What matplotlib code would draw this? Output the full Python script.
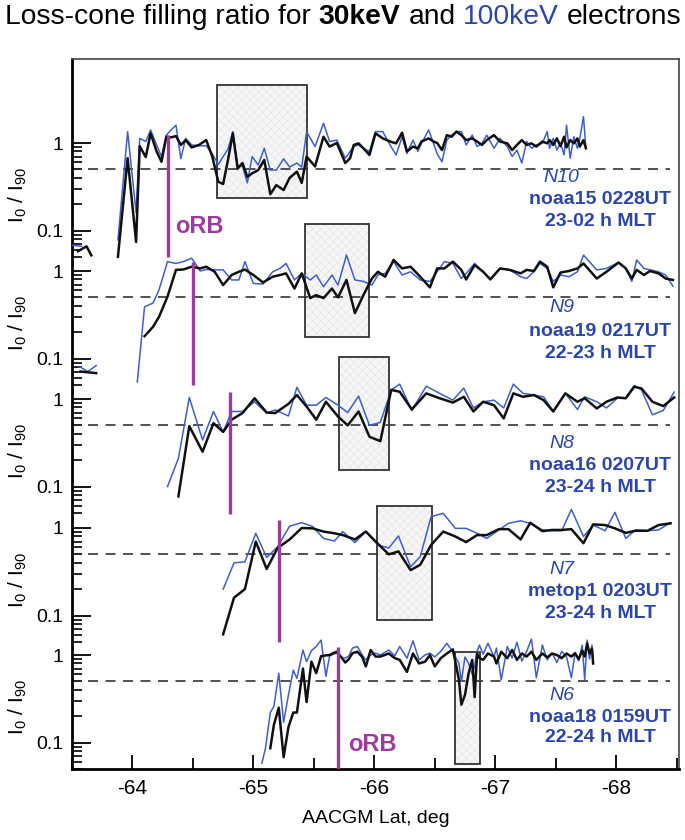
import numpy as np
import matplotlib
matplotlib.use("Agg")
import matplotlib.pyplot as plt
from matplotlib import ticker, transforms
from matplotlib.patches import Rectangle

plt.rcParams['font.family'] = ['Liberation Sans', 'DejaVu Sans']
plt.rcParams['mathtext.fontset'] = 'custom'
plt.rcParams['mathtext.rm'] = 'Liberation Sans'
plt.rcParams['axes.unicode_minus'] = False
plt.rcParams['hatch.linewidth'] = 0.3

nan = np.nan

# ---- N10  noaa15 ----
lat_n10 = [-63.88, -63.96, -64.03, -64.06, -64.11, -64.15, -64.20, -64.24, -64.28, -64.32,
           -64.36, -64.40, -64.44, -64.49, -64.55, -64.61, -64.66, -64.71, -64.75, -64.79,
           -64.83, -64.87, -64.91, -64.95, -64.99, -65.04, -65.09, -65.14, -65.19, -65.25,
           -65.30, -65.36, -65.40, -65.44, -65.51, -65.58, -65.63, -65.69, -65.76, -65.80,
           -65.83, -65.87, -65.91, -65.96, -66.01,
           -66.07, -66.13, -66.18, -66.23, -66.27, -66.32, -66.36, -66.39, -66.45, -66.49,
           -66.52, -66.56, -66.60, -66.64, -66.68, -66.72, -66.76, -66.81, -66.85, -66.89,
           -66.93, -66.99, -67.04, -67.10, -67.14, -67.18, -67.22, -67.26, -67.30, -67.34,
           -67.39, -67.43, -67.45, -67.48, -67.51, -67.54, -67.57, -67.59, -67.62, -67.65,
           -67.68, -67.70, -67.73, -67.75]
kev30_n10 = [0.05, 0.67, 0.074, 0.92, 0.69, 1.29, 0.80, 0.61, 1.18, 1.16,
             1.20, 0.95, 1.08, 0.89, 0.95, 1.08, 0.70, 0.36, 0.34, 0.64,
             1.29, 0.51, 0.59, 0.41, 0.45, 0.49, 0.64, 0.26, 0.33, 0.29,
             0.40, 0.47, 0.35, 0.70, 0.54, 1.18, 0.91, 1.00, 0.59, 0.67,
             0.95, 0.99, 0.87, 0.73, 1.29,
             1.13, 1.04, 0.99, 1.31, 0.80, 0.91, 0.87, 1.04, 1.13, 1.04,
             1.00, 0.83, 1.23, 1.18, 1.35, 1.23, 1.08, 1.13, 1.04, 0.95,
             1.08, 1.23, 1.04, 0.99, 0.83, 0.95, 1.08, 0.95, 0.99, 0.91,
             1.04, 0.99, 1.08, 0.95, 1.13, 0.92, 1.18, 0.89, 1.08, 0.99,
             1.13, 0.91, 1.08, 0.87]
kev100_n10 = [0.078, 1.35, 0.16, 1.13, 1.04, 1.41, 0.95, 0.70, 1.23, 1.41,
              1.60, 0.66, 1.13, 0.95, 0.93, 0.93, 0.75, 0.57, 0.70, 0.85,
              1.35, 0.55, 0.54, 0.35, 0.70, 0.56, 0.87, 0.49, 0.49, 0.66,
              0.53, 0.59, 0.53, 1.35, 0.91, 1.68, 1.04, 1.08, 0.67, 0.80,
              0.91, 0.95, 0.87, 0.80, 1.35,
              1.35, 0.95, 0.73, 1.18, 0.76, 1.08, 0.80, 0.99, 1.41, 0.99,
              0.75, 0.61, 1.08, 1.23, 1.35, 1.35, 0.95, 1.23, 0.91, 0.99,
              1.23, 0.87, 1.13, 0.91, 0.70, 0.83, 0.59, 1.04, 0.87, 0.95,
              0.99, 1.35, 0.87, 1.13, 0.83, 0.99, 0.73, 1.60, 0.67, 1.18,
              0.87, 1.13, 2.00, 0.87]
# stray bits at the poleward-most edge
edge30_lat_n10 = [-63.55, -63.62, -63.66]
edge30_n10 = [0.058, 0.066, 0.052]
edge100_lat_n10 = [-63.50, -63.58]
edge100_n10 = [0.068, 0.066]

# ---- N9  noaa19 ----
lat_n9 = [-64.04, -64.10, -64.17, -64.22, -64.29, -64.36, -64.42, -64.49, -64.56, -64.61,
          -64.68, -64.75, -64.82, -64.88, -64.93, -65.00, -65.08, -65.16, -65.22, -65.27,
          -65.34, -65.40, -65.47, -65.52, -65.58, -65.65, -65.70, -65.77, -65.84, -65.91,
          -65.98, -66.03,
          -66.09, -66.16, -66.23, -66.30, -66.38, -66.46, -66.52, -66.58, -66.65, -66.72,
          -66.76, -66.83, -66.90, -66.96, -67.04, -67.12, -67.21, -67.26, -67.32, -67.37,
          -67.43, -67.48, -67.54, -67.61, -67.68, -67.73, -67.84, -67.92, -68.02, -68.08,
          -68.13, -68.17, -68.23, -68.28, -68.35, -68.41, -68.47]
kev30_n9 = [nan, 0.18, 0.23, 0.30, 0.51, 1.03, 1.04, 1.12, 1.07, 1.12,
            0.98, 0.69, 0.90, 0.98, 1.04, 0.90, 0.74, 0.86, 0.90, 0.94,
            0.63, 0.94, 0.49, 0.53, 0.49, 0.63, 0.50, 0.79, 0.33, 0.53,
            0.82, 0.98,
            0.86, 1.34, 1.07, 1.12, 0.86, 0.65, 1.07, 1.07, 1.28, 1.03,
            0.80, 1.17, 0.98, 0.80, 1.07, 1.03, 0.94, 1.03, 1.00, 1.28,
            1.12, 0.65, 0.96, 1.00, 1.07, 1.22, 0.82, 0.98, 1.25, 1.07,
            0.82, 1.03, 0.90, 1.00, 0.94, 0.82, 0.79]
kev100_n9 = [0.054, 0.39, 0.43, 0.61, 1.28, 1.22, 1.28, 1.40, 1.00, 1.04,
             1.03, 1.03, 0.79, 0.79, 1.28, 0.72, 0.71, 0.98, 1.07, 1.22,
             0.79, 0.94, 0.79, 0.90, 0.66, 0.90, 0.69, 1.52, 0.79, 0.76,
             0.69, 0.90,
             0.94, 1.28, 0.90, 0.98, 0.79, 0.76, 0.98, 1.28, 1.22, 0.82,
             0.94, 1.22, 0.98, 0.82, 1.07, 1.03, 0.86, 0.82, 0.98, 1.22,
             1.07, 0.76, 0.90, 0.86, 0.98, 1.52, 1.03, 1.07, 1.25, 1.07,
             0.76, 1.34, 1.07, 1.03, 0.98, 0.90, 0.67]
edge30_lat_n9 = [-63.57, -63.70]
edge30_n9 = [0.071, 0.068]
edge100_lat_n9 = [-63.56, -63.63, -63.70]
edge100_n9 = [0.081, 0.071, 0.083]

# ---- N8  noaa16 ----
lat_n8 = [-64.29, -64.38, -64.47, -64.58, -64.67, -64.75, -64.82, -64.91, -65.01, -65.11,
          -65.18, -65.29, -65.36, -65.44, -65.52, -65.60, -65.70, -65.78, -65.87, -65.96,
          -66.05,
          -66.14, -66.21, -66.31, -66.43, -66.54, -66.65, -66.74, -66.82, -66.90, -66.99,
          -67.07, -67.15, -67.23, -67.32, -67.40, -67.48, -67.58, -67.68, -67.74, -67.84,
          -67.92, -68.01, -68.08, -68.15, -68.21, -68.30, -68.39, -68.48]
kev30_n8 = [nan, 0.077, 0.49, 0.25, 0.53, 0.42, 0.58, 0.69, 1.02, 0.70,
            0.69, 0.88, 1.11, 0.82, 0.58, 0.93, 0.63, 0.50, 0.72, 0.37,
            0.33,
            1.27, 1.21, 0.76, 1.16, 1.02, 0.91, 1.06, 0.72, 0.93, 0.85,
            0.60, 1.16, 1.06, 1.11, 0.97, 0.72, 1.16, 0.93, 1.02, 0.78,
            0.93, 1.04, 1.02, 1.38, 1.32, 0.93, 0.83, 1.04]
kev100_n8 = [0.10, 0.21, 1.04, 0.34, 0.72, 0.42, 0.72, 0.72, 0.93, 0.69,
             0.75, 0.64, 1.36, 0.85, 0.85, 1.04, 0.85, 0.70, 1.08, 0.50,
             0.54,
             1.27, 1.48, 0.74, 1.40, 1.16, 0.97, 1.33, 0.79, 0.93, 0.97,
             0.79, 1.48, 1.16, 1.11, 1.06, 0.72, 1.16, 0.76, 1.06, 0.93,
             0.79, 1.02, 1.04, 1.43, 1.27, 0.66, 0.74, 1.20]

# ---- N7  metop1 ----
lat_n7 = [-64.75, -64.84, -64.93, -65.02, -65.11, -65.20, -65.30, -65.40, -65.49, -65.58,
          -65.67, -65.74, -65.84, -65.93, -66.03,
          -66.12, -66.20, -66.30, -66.38, -66.47, -66.57, -66.67, -66.76, -66.85, -66.93,
          -67.03, -67.11, -67.21, -67.29, -67.39, -67.47, -67.55, -67.63, -67.73, -67.81,
          -67.91, -67.99, -68.08, -68.16, -68.26, -68.35, -68.45]
kev30_n7 = [0.061, 0.16, 0.20, 0.70, 0.34, 0.59, 0.74, 1.00, 0.99, 0.91,
            0.87, 0.83, 0.74, 0.91, 0.66,
            0.50, 0.54, 0.33, 0.38, 0.64, 0.91, 0.80, 0.69, 0.83, 0.83,
            0.97, 0.97, 0.74, 1.15, 0.92, 0.95, 0.95, 0.97, 0.67, 1.10,
            1.08, 0.99, 0.88, 0.93, 0.93, 1.08, 1.13]
kev100_n7 = [0.20, 0.40, 0.41, 0.87, 0.46, 0.61, 1.05, 1.15, 1.04, 0.76,
             0.71, 0.91, 0.68, 0.91, 0.64,
             0.59, 0.81, 0.36, 0.47, 1.35, 1.47, 0.99, 0.99, 0.87, 0.76,
             0.95, 1.13, 1.21, 1.13, 0.95, 0.93, 0.93, 1.63, 0.80, 1.08,
             0.93, 1.51, 0.76, 0.95, 0.93, 0.95, 1.15]

# ---- N6  noaa18 ----
lat_n6 = [-65.07, -65.10, -65.14, -65.17, -65.21, -65.25, -65.29, -65.33, -65.36, -65.41,
          -65.44, -65.48, -65.52, -65.56, -65.60, -65.63, -65.66, -65.69, -65.72, -65.76,
          -65.79, -65.82, -65.86, -65.90, -65.93, -65.97, -66.01,
          -66.05, -66.12, -66.17, -66.21, -66.27, -66.32, -66.37, -66.42, -66.46, -66.50,
          -66.55, -66.60, -66.65, -66.70, -66.72, -66.75, -66.78, -66.81, -66.83, -66.85,
          -66.87, -66.90, -66.94, -66.99, -67.01, -67.05, -67.10, -67.14, -67.18, -67.22,
          -67.26, -67.30, -67.34, -67.39, -67.43, -67.47, -67.51, -67.55, -67.59, -67.63,
          -67.66, -67.69, -67.72, -67.74, -67.76, -67.78, -67.80, -67.81]
kev30_n6 = [nan, nan, 0.086, 0.16, 0.25, 0.068, 0.15, 0.22, 0.22, 0.70,
            0.29, 0.84, 0.62, 0.97, 0.99, 1.00, 1.05, 1.09, 0.97, 0.82,
            0.90, 1.05, 1.09, 0.95, 0.74, 1.14, 0.96,
            0.96, 1.04, 0.92, 0.88, 0.64, 1.04, 0.80, 0.84, 1.00, 0.74,
            0.92, 1.04, 1.16, 0.52, 0.27, 0.35, 0.62, 0.88, 0.33, 1.04,
            0.92, 0.88, 1.04, 0.96, 0.80, 1.09, 0.92, 1.14, 0.88, 1.04,
            0.96, 1.09, 0.88, 1.04, 0.94, 1.04, 1.00, 0.92, 1.04, 0.96,
            1.05, 0.90, 1.12, 0.96, 1.36, 1.04, 1.18, 0.80]
kev100_n6 = [0.058, 0.086, 0.22, 0.26, 0.62, 0.17, 0.35, 0.67, 0.54, 1.14,
             0.84, 1.12, 1.25, 1.48, 0.57, 0.97, 1.02, 1.05, 0.95, 0.92,
             0.98, 1.20, 1.25, 1.00, 0.88, 1.00, 1.05,
             1.00, 1.14, 0.98, 1.25, 0.92, 1.45, 0.88, 1.00, 1.05, 0.95,
             1.10, 1.36, 1.08, 0.80, 0.50, 0.95, 0.80, 0.60, 0.75, 1.10,
             1.30, 1.02, 1.36, 0.95, 1.20, 0.52, 1.25, 0.92, 1.40, 0.85,
             1.10, 1.52, 0.55, 1.30, 0.88, 1.05, 0.82, 1.10, 0.95, 0.55,
             1.05, 0.86, 1.30, 0.52, 1.48, 0.90, 1.30, 0.90]

passes = ['N10', 'N9', 'N8', 'N7', 'N6']
sat_lines = ['noaa15 0228UT', 'noaa19 0217UT', 'noaa16 0207UT', 'metop1 0203UT', 'noaa18 0159UT']
mlt_lines = ['23-02 h MLT', '22-23 h MLT', '23-24 h MLT', '23-24 h MLT', '22-24 h MLT']
lats = [lat_n10, lat_n9, lat_n8, lat_n7, lat_n6]
kev30 = [kev30_n10, kev30_n9, kev30_n8, kev30_n7, kev30_n6]
kev100 = [kev100_n10, kev100_n9, kev100_n8, kev100_n7, kev100_n6]

# outer radiation belt boundary (lat, top, bottom of marker)
orb_lat = [-64.29, -64.50, -64.81, -65.21, -65.70]
orb_top = [1.23, 1.28, 1.21, 1.23, 1.22]
orb_bottom = [0.050, 0.050, 0.049, 0.050, 0.050]

# shaded intervals (lat range, ratio range)
box_lat = [(-64.70, -65.44), (-65.425, -65.96), (-65.71, -66.125), (-66.02, -66.475), (-66.668, -66.875)]
box_ratio = [(0.233, 4.6), (0.174, 3.45), (0.154, 2.99), (0.090, 1.78), (0.0566, 1.09)]

ref_level = 0.5

BLACK = '#111111'
BLUE = '#3f5fc6'
TEXT_BLUE = '#2c46a8'
PURPLE = '#9b3b9b'

W, H = 685, 840
LEFT, RIGHT, TOP, BOTTOM = 72, 679, 59, 769      # frame in pixels
ONE_PX = [143, 271, 399, 528, 655]                 # where "1" sits for each pass
DEC_PX = 87.5                                      # pixels per decade
ANN_OFF = [(34, 57, 79), (36, 61, 82), (44, 67, 88), (41, 64, 85), (41, 63, 83)]

fig = plt.figure(figsize=(W / 100, H / 100), dpi=100)
pos = [LEFT / W, 1 - BOTTOM / H, (RIGHT - LEFT) / W, (BOTTOM - TOP) / H]
xlim = (-63.5, -68.52)

ax = fig.add_axes(pos)
ax.set_xlim(*xlim)
ax.set_yticks([])
ax.set_xticks([-64, -65, -66, -67, -68])
ax.xaxis.set_minor_locator(ticker.MultipleLocator(0.5))
ax.tick_params(axis='x', which='major', direction='in', length=10, width=1.3, labelsize=15, pad=7)
ax.tick_params(axis='x', which='minor', direction='in', length=8, width=1.3)
ax.set_xlabel('AACGM Lat, deg', fontsize=14, labelpad=9)
for side in ['left', 'bottom']:
    ax.spines[side].set_linewidth(2)
    ax.spines[side].set_color('black')
for side in ['top', 'right']:
    ax.spines[side].set_linewidth(1.2)
    ax.spines[side].set_color('#444444')

minor_vals = [0.05, 0.06, 0.07, 0.08, 0.09, 0.2, 0.3, 0.4, 0.5, 0.6, 0.7, 0.8, 0.9]

for i in range(5):
    p = fig.add_axes(pos, frameon=False)
    p.set_yscale('log')
    p.set_xlim(*xlim)
    p.set_ylim(10 ** (-(BOTTOM - ONE_PX[i]) / DEC_PX), 10 ** ((ONE_PX[i] - TOP) / DEC_PX))
    p.tick_params(axis='x', which='both', bottom=False, labelbottom=False)
    p.yaxis.set_major_locator(ticker.FixedLocator([0.1, 1]))
    p.yaxis.set_major_formatter(ticker.FixedFormatter(['0.1', '1']))
    p.yaxis.set_minor_locator(ticker.FixedLocator(minor_vals))
    p.yaxis.set_minor_formatter(ticker.NullFormatter())
    p.tick_params(axis='y', which='major', direction='in', length=14, width=1.3, labelsize=14, pad=6)
    p.tick_params(axis='y', which='minor', direction='in', length=7, width=1.2)

    (x0, x1), (y0, y1) = box_lat[i], box_ratio[i]
    p.add_patch(Rectangle((x0, y0), x1 - x0, y1 - y0, facecolor='#f6f6f6', edgecolor='#dddddd',
                          lw=0, hatch='xxxx', zorder=1))
    p.add_patch(Rectangle((x0, y0), x1 - x0, y1 - y0, fill=False, edgecolor='#333333', lw=1.3, zorder=2))

    p.axhline(ref_level, xmin=0.026, xmax=0.985, color='#333333', lw=1.2, dashes=(6, 4.5), zorder=2)

    p.plot(lats[i], kev100[i], color=BLUE, lw=1.1, zorder=3)
    p.plot(lats[i], kev30[i], color=BLACK, lw=1.8, zorder=4)
    p.vlines(orb_lat[i], orb_bottom[i], orb_top[i], color=PURPLE, lw=2.4, zorder=5)

    if i == 0:
        p.plot(edge100_lat_n10, edge100_n10, color=BLUE, lw=1.1, zorder=3)
        p.plot(edge30_lat_n10, edge30_n10, color=BLACK, lw=1.8, zorder=4)
        p.text(-64.35, 0.112, 'oRB', color=PURPLE, fontsize=17, fontweight='bold', ha='left', va='center')
    if i == 1:
        p.plot(edge100_lat_n9, edge100_n9, color=BLUE, lw=1.1, zorder=3)
        p.plot(edge30_lat_n9, edge30_n9, color=BLACK, lw=1.8, zorder=4)
    if i == 4:
        p.text(-65.78, 0.094, 'oRB', color=PURPLE, fontsize=17, fontweight='bold', ha='left', va='center')

    o1, o2, o3 = ANN_OFF[i]
    p.text(-67.55, 10 ** (-o1 / DEC_PX), passes[i], color=TEXT_BLUE, fontsize=14, fontstyle='italic',
           ha='center', va='center')
    p.text(-67.87, 10 ** (-o2 / DEC_PX), sat_lines[i], color=TEXT_BLUE, fontsize=14, fontweight='bold',
           ha='center', va='center')
    p.text(-67.87, 10 ** (-o3 / DEC_PX), mlt_lines[i], color=TEXT_BLUE, fontsize=14, fontweight='bold',
           ha='center', va='center')

    trans = transforms.blended_transform_factory(p.transAxes, p.transData)
    p.text(-0.089, 10 ** (-52 / DEC_PX), r'I$_\mathregular{0}$ / I$_\mathregular{90}$', transform=trans,
           rotation=90, ha='center', va='center', fontsize=15)

# title with a bold and a blue word
title_parts = [('Loss-cone filling ratio for', 'normal', 'black'),
               ('30keV', 'bold', 'black'),
               ('and', 'normal', 'black'),
               ('100keV', 'normal', TEXT_BLUE),
               ('electrons', 'normal', 'black')]
TSIZE = 20.3
gap = 0.278 * TSIZE
prev = fig.text(5 / W, 1 - 30 / H, title_parts[0][0], fontsize=TSIZE, va='bottom', ha='left')
for s, weight, col in title_parts[1:]:
    prev = ax.annotate(s, xy=(1, 0), xycoords=prev, xytext=(gap, 0), textcoords='offset points',
                       fontsize=TSIZE, fontweight=weight, color=col, va='bottom', ha='left',
                       annotation_clip=False)

fig.savefig('out.png', dpi=100)
